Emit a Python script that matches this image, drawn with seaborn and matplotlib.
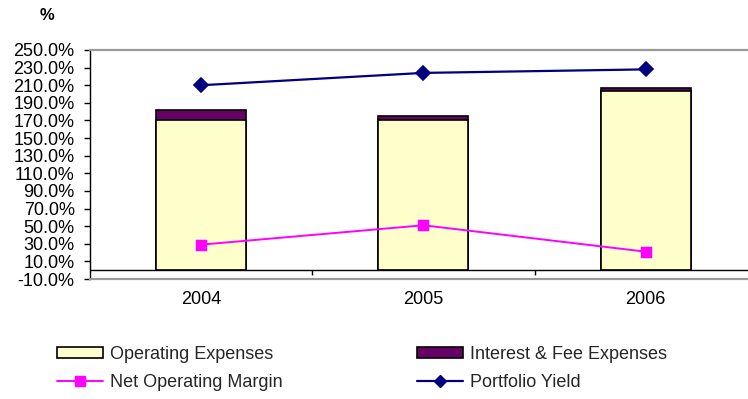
import matplotlib
matplotlib.use("Agg")
import matplotlib.pyplot as plt
import seaborn as sns
import numpy as np
import pandas as pd
from matplotlib.patches import Patch
from matplotlib.lines import Line2D
from matplotlib.ticker import FuncFormatter

years = ["2004", "2005", "2006"]
operating_expenses = [170.0, 170.0, 203.0]
interest_fee_expenses = [12.0, 4.5, 3.5]
net_operating_margin = [29.0, 51.0, 21.0]
portfolio_yield = [210.0, 224.0, 228.0]

sns.set_theme(style="white")
plt.rcParams['font.family'] = ['Liberation Sans', 'DejaVu Sans']
plt.rcParams['font.size'] = 13

df = pd.DataFrame({
    "year": years,
    "opex": operating_expenses,
    "interest": interest_fee_expenses,
    "total": np.array(operating_expenses) + np.array(interest_fee_expenses),
    "nom": net_operating_margin,
    "py": portfolio_yield,
})

fig = plt.figure(figsize=(7.48, 3.99), dpi=100)
ax = fig.add_axes([90 / 748, 1 - 279 / 399, 1 - 90 / 748, (279 - 50) / 399])

bw = 0.405
sns.barplot(data=df, x="year", y="total", color="#660066", edgecolor="black",
            linewidth=1.2, width=bw, saturation=1, ax=ax, zorder=2)
sns.barplot(data=df, x="year", y="opex", color="#FFFFCC", edgecolor="black",
            linewidth=1.2, width=bw, saturation=1, ax=ax, zorder=3)

sns.pointplot(data=df, x="year", y="nom", color="#FF00FF", markers="s",
              markersize=7, linewidth=1.4, ax=ax, zorder=5)
sns.pointplot(data=df, x="year", y="py", color="#000080", markers="D",
              markersize=7.5, linewidth=1.6, ax=ax, zorder=5)

ax.set_xlim(-0.5, 2.46)
ax.set_ylim(-10, 250)
ax.set_yticks(np.arange(-10, 251, 20))
ax.yaxis.set_major_formatter(FuncFormatter(lambda v, p: f"{v:.1f}%"))
ax.set_xlabel("")
ax.set_ylabel("")

# zero line and category separators
ax.axhline(0, color="black", linewidth=1.0, zorder=4)
ax.vlines([0.5, 1.5], -5.5, 0, color="black", linewidth=1.0, zorder=4)

for s in ["top", "bottom"]:
    ax.spines[s].set_color("#999999")
    ax.spines[s].set_linewidth(1.6)
ax.spines["right"].set_visible(False)
ax.spines["left"].set_color("black")
ax.spines["left"].set_linewidth(1.0)

ax.tick_params(axis="y", which="major", left=True, length=4, width=1,
               color="black", pad=7, labelsize=13, labelcolor="black")
ax.tick_params(axis="x", which="major", bottom=False, length=0, pad=9,
               labelsize=13, labelcolor="black")

fig.text(47 / 748, 1 - 16 / 399, "%", ha="center", va="center",
         fontsize=12, fontweight="bold", color="black")

handles = [
    Patch(facecolor="#FFFFCC", edgecolor="black", linewidth=1.2),
    Patch(facecolor="#660066", edgecolor="black", linewidth=1.2),
    Line2D([], [], color="#FF00FF", marker="s", markersize=7, linewidth=1.4),
    Line2D([], [], color="#000080", marker="D", markersize=6.5, linewidth=1.6),
]
labels = ["Operating Expenses", "Interest & Fee Expenses",
          "Net Operating Margin", "Portfolio Yield"]
order = [0, 2, 1, 3]
fig.legend([handles[i] for i in order], [labels[i] for i in order],
           loc="center left", bbox_to_anchor=(57 / 748, 1 - 368.5 / 399),
           ncol=2, frameon=False, fontsize=13, handlelength=2.55,
           handleheight=0.6, handletextpad=0.4, columnspacing=7.4,
           labelspacing=0.6, borderpad=0, borderaxespad=0)

fig.savefig("out.png", dpi=100)
